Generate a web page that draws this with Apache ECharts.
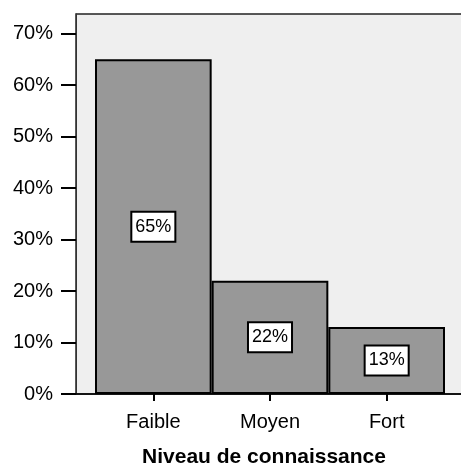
<!DOCTYPE html>
<html>
<head>
<meta charset="utf-8">
<script src="https://cdn.jsdelivr.net/npm/echarts@6/dist/echarts.min.js"></script>
<style>
  html, body { margin: 0; padding: 0; background: #ffffff; }
  #chart { width: 461px; height: 468px; }
</style>
</head>
<body>
<div id="chart"></div>
<script>
// Niveau de connaissance: share of respondents per level
const categories = ['Faible', 'Moyen', 'Fort'];
const percentages = [65, 22, 13];
const yTicks = [0, 10, 20, 30, 40, 50, 60, 70];
const yMax = 73.8;
const axisTitle = 'Niveau de connaissance';

const FONT = "'Liberation Sans', Arial, sans-serif";

const chart = echarts.init(document.getElementById('chart'), null, { renderer: 'canvas' });

chart.setOption({
  animation: false,
  textStyle: { fontFamily: FONT, color: '#000' },
  grid: [
    // panel with the percentage scale
    { left: 76, top: 14, width: 389, height: 380, show: true, outerBoundsMode: 'none', containLabel: false,
      backgroundColor: '#efefef', borderColor: '#222', borderWidth: 1.5 },
    // bars area
    { left: 95, top: 14, width: 350, height: 380, outerBoundsMode: 'none', containLabel: false }
  ],
  xAxis: [
    {
      type: 'value', gridIndex: 0, min: 0, max: 1,
      axisLine: { show: true, lineStyle: { color: '#000', width: 1.5 } },
      axisTick: { show: false }, axisLabel: { show: false }, splitLine: { show: false }
    },
    {
      type: 'category', gridIndex: 1, data: categories,
      axisLine: { show: false },
      axisTick: { show: true, alignWithLabel: true, length: 7, lineStyle: { color: '#000', width: 2 } },
      axisLabel: { fontSize: 20, color: '#000', margin: 18, fontFamily: FONT },
      name: axisTitle,
      nameLocation: 'middle',
      nameGap: 53,
      nameTextStyle: { fontSize: 21, fontWeight: 'bold', color: '#000', fontFamily: FONT, padding: [0, 12, 0, 0] }
    }
  ],
  yAxis: [
    {
      type: 'value', gridIndex: 0, min: 0, max: yMax,
      axisLine: { show: true, lineStyle: { color: '#333', width: 1 } },
      axisTick: { show: true, length: 15, customValues: yTicks, lineStyle: { color: '#000', width: 2 } },
      axisLabel: { fontSize: 20, color: '#000', margin: 23, customValues: yTicks,
                   formatter: v => v + '%', fontFamily: FONT },
      splitLine: { show: false }
    },
    {
      type: 'value', gridIndex: 1, min: 0, max: yMax, show: false
    }
  ],
  series: [
    {
      type: 'bar',
      xAxisIndex: 1, yAxisIndex: 1,
      data: percentages,
      barWidth: '100%',
      itemStyle: { color: '#989898', borderColor: '#000', borderWidth: 2 },
      label: {
        show: true, position: 'inside',
        formatter: p => p.value + '%',
        fontSize: 18, color: '#000', fontFamily: FONT,
        backgroundColor: '#ffffff', borderColor: '#000', borderWidth: 2,
        padding: [5, 3, 4, 3], lineHeight: 19
      }
    }
  ]
});
</script>
</body>
</html>
